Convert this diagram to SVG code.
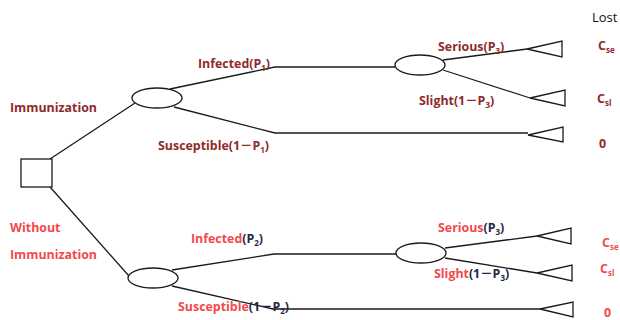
<svg xmlns="http://www.w3.org/2000/svg" width="620" height="320" viewBox="0 0 620 320">
<style>
.ln{fill:none;stroke:#1a1a1a;stroke-width:1.3}
.nd{fill:#fff;stroke:#1a1a1a;stroke-width:1.3}
text{font-family:"Open Sans","Liberation Sans","Noto Sans CJK SC",sans-serif;font-weight:bold;font-size:12.4px}
.dr{fill:#8E2B2B}
.rd{fill:#F24A4A}
.dk{fill:#1E2A48}
.sb{font-size:8px}
.lost{font-weight:normal;font-size:13px;fill:#111}
</style>
<rect width="620" height="320" fill="#fff"/>
<g id="connectors">
<polyline class="ln" points="50,159 135,103"/>
<polyline class="ln" points="50,187 129,276"/>
<polyline class="ln" points="170,89 275,67 395,67"/>
<polyline class="ln" points="174,107 275,133 528,133"/>
<polyline class="ln" points="443,60 527,49"/>
<polyline class="ln" points="443,70 530,98"/>
<polyline class="ln" points="172,270 274,254 397,254"/>
<polyline class="ln" points="172,286 273,309 540,309"/>
<polyline class="ln" points="445,248 537,236"/>
<polyline class="ln" points="445,258 537,273"/>
</g>
<g id="decision"><rect class="nd" x="21" y="159" width="31" height="28"/></g>
<g id="chance1"><ellipse class="nd" cx="157" cy="98" rx="25" ry="10"/></g>
<g id="chance2"><ellipse class="nd" cx="420" cy="65" rx="25" ry="10"/></g>
<g id="chance3"><ellipse class="nd" cx="153" cy="278" rx="25" ry="10"/></g>
<g id="chance4"><ellipse class="nd" cx="421" cy="253" rx="25" ry="10"/></g>
<g id="end1"><polygon class="nd" points="527,49 562,41 562,57"/></g>
<g id="end2"><polygon class="nd" points="530,98 565,90 565,106"/></g>
<g id="end3"><polygon class="nd" points="528,135 563,127 563,142"/></g>
<g id="end4"><polygon class="nd" points="537,236 571,228 571,244"/></g>
<g id="end5"><polygon class="nd" points="537,273 572,265 572,281"/></g>
<g id="end6"><polygon class="nd" points="540,309 573,302 573,317"/></g>
<g id="labels">
<text class="lost" x="592" y="22">Lost</text>
<text class="dr" x="598" y="50">C<tspan class="sb" dy="3">se</tspan></text>
<text class="dr" x="597" y="103">C<tspan class="sb" dy="3">sl</tspan></text>
<text class="dr" x="599" y="148">0</text>
<text class="dr" x="10" y="112">Immunization</text>
<text class="dr" x="198" y="68">Infected(P<tspan class="sb" dy="3">1</tspan><tspan dy="-3">)</tspan></text>
<text class="dr" x="158" y="150">Susceptible(1－P<tspan class="sb" dy="3">1</tspan><tspan dy="-3">)</tspan></text>
<text class="dr" x="438" y="51">Serious(P<tspan class="sb" dy="3">3</tspan><tspan dy="-3">)</tspan></text>
<text class="dr" x="419" y="105">Slight(1－P<tspan class="sb" dy="3">3</tspan><tspan dy="-3">)</tspan></text>
<text class="rd" x="10" y="232">Without</text>
<text class="rd" x="10" y="259">Immunization</text>
<text class="rd" x="191" y="243">Infected<tspan class="dk">(P<tspan class="sb" dy="3">2</tspan><tspan dy="-3">)</tspan></tspan></text>
<text class="rd" x="178" y="311">Susceptible<tspan class="dk">(1－P<tspan class="sb" dy="3">2</tspan><tspan dy="-3">)</tspan></tspan></text>
<text class="rd" x="438" y="232">Serious<tspan class="dk">(P<tspan class="sb" dy="3">3</tspan><tspan dy="-3">)</tspan></tspan></text>
<text class="rd" x="434" y="278">Slight<tspan class="dk">(1－P<tspan class="sb" dy="3">3</tspan><tspan dy="-3">)</tspan></tspan></text>
<text class="rd" x="602" y="247">C<tspan class="sb" dy="3">se</tspan></text>
<text class="rd" x="600" y="273">C<tspan class="sb" dy="3">sl</tspan></text>
<text class="rd" x="604" y="317">0</text>
</g>
</svg>
